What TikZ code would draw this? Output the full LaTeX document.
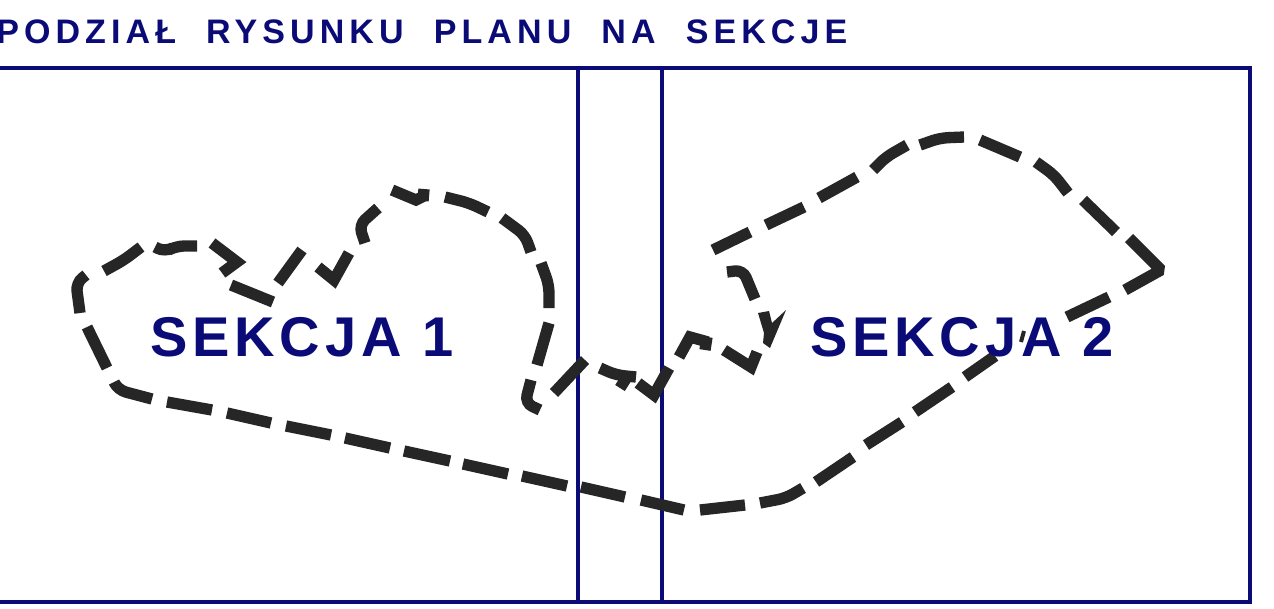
\documentclass[tikz,border=0pt]{standalone}
\usepackage{fontspec}
\setmainfont{Liberation Sans}
\definecolor{planblue}{HTML}{0B0B78}
\definecolor{dashgray}{HTML}{262626}
\newcommand{\thickness}{8.5pt}
\newcommand{\wordgap}{\hspace{11.7pt}}
\tikzset{
    frameline/.style = {draw=planblue, line width=2.7pt},
    boundary/.style = {draw=dashgray, line width=\thickness},
    roundboundary/.style = {boundary, rounded corners=6pt},
    sectionlabel/.style = {text=planblue, font=\fontsize{42}{50}\selectfont\bfseries\addfontfeature{LetterSpace=8.7}, inner sep=0pt, anchor=base west},
    titlelabel/.style = {text=planblue, font=\fontsize{25.5}{30}\selectfont\bfseries\addfontfeature{LetterSpace=15}, inner sep=0pt, anchor=base west},
}

\begin{document}
\begin{tikzpicture}[x=0.75pt, y=-0.75pt]
    \useasboundingbox (0,0) rectangle (1274,608);
    \fill[white] (0,0) rectangle (1274,608);

    %Frame
    \draw[frameline] (-5,68) rectangle (1250,602);
    \draw[frameline] (578,68) -- (578,602);
    \draw[frameline] (662,68) -- (662,602);

    %Boundary, section 1
    \draw[roundboundary]
        (86,275) -- (76,283) -- (80,313)
        (114,382) -- (118,390) -- (152,399)
        (378,208) -- (359,225) -- (365,243)
        (549,308) -- (549,285) -- (541,263)
        (531,252) -- (525,235) -- (502,218)
        (488,212) -- (469,203) -- (445,197)
        (197,246) -- (176,246) -- (165,252) -- (155,247)
        (141,247) -- (124,260) -- (104,271)
        (537,365) -- (549,323)
        (540,410) -- (525,403) -- (531,380);
    \draw[boundary]
        (87,327) -- (107,368)
        (167,402) -- (212,410)
        (227,413) -- (271,423)
        (286,426) -- (331,435)
        (345,438) -- (390,448)
        (404,451) -- (450,461)
        (463,464) -- (508,474)
        (522,476) -- (567,486)
        (424,189) -- (423,201)
        (424,196) -- (416,200) -- (392,190)
        (349,253) -- (334,280) -- (318,267)
        (302,250) -- (278,283)
        (273,302) -- (231,285)
        (222,273) -- (237,262) -- (212,243);

    %Boundary, section 2
    \draw[roundboundary]
        (760,503) -- (786,498) -- (803,488)
        (1068,193) -- (1054,175) -- (1036,162)
        (1020,157) -- (980,140)
        (964,137) -- (940,138) -- (920,145)
        (907,145) -- (886,157) -- (873,170)
        (727,272) -- (743,270) -- (755,299)
        (600,368) -- (616,375) -- (636,377);
    \draw[boundary]
        (581,487) -- (625,497)
        (641,500) -- (684,510)
        (700,510) -- (745,505)
        (816,482) -- (853,457)
        (866,445) -- (902,422)
        (915,412) -- (952,387)
        (965,377) -- (995,356)
        (1067,317) -- (1109,297)
        (1116,232) -- (1083,200)
        (857,177) -- (819,198)
        (804,207) -- (766,225)
        (750,232) -- (713,250)
        (757,352) -- (751,367) -- (724,350)
        (707,337) -- (705,350)
        (708,342) -- (690,337) -- (679,357)
        (669,368) -- (654,395) -- (638,383)
        (627,377) -- (620,388)
        (585,360) -- (554,393);
    \draw[boundary, line join=bevel] (1125,290) -- (1161,270) -- (1129,238);
    \draw[draw=dashgray, line width=3pt] (1024,331) -- (1021,342);
    \fill[dashgray] (758,313) -- (769,311) -- (772,323) -- (786,310) -- (770,348) -- (763,343) -- (764,333) -- cycle;

    %Labels
    \node[titlelabel] (title) at (-4,43) {PODZIAŁ\wordgap{} RYSUNKU\wordgap{} PLANU\wordgap{} NA\wordgap{} SEKCJE};
    \node[sectionlabel] (sekcja1) at (150,356.5) {SEKCJA 1};
    \node[sectionlabel] (sekcja2) at (810,356.5) {SEKCJA 2};
\end{tikzpicture}
\end{document}
